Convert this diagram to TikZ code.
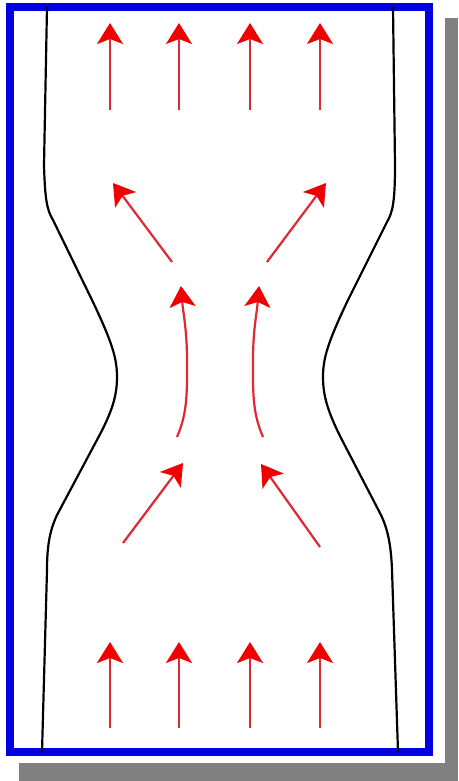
\documentclass[tikz,border=0pt]{standalone}
\usetikzlibrary{arrows.meta}
\definecolor{frameblue}{RGB}{0,0,225}
\definecolor{shadowgray}{RGB}{128,128,128}
\definecolor{shaftred}{RGB}{222,40,52}
\definecolor{headred}{RGB}{240,0,0}
\tikzset{
  flow/.style={draw=shaftred, line width=2.2pt,
    -{Stealth[length=21pt,width=26pt,inset=5pt,headred]}},
  wall/.style={draw=black, line width=2.2pt, line join=round},
}
\begin{document}
\begin{tikzpicture}[x=1pt,y=-1pt]
\useasboundingbox (0,0) rectangle (458,781);
\fill[white] (0,0) rectangle (458,781);
\fill[shadowgray] (19,18) rectangle (458,781);
\fill[white] (0,0) rectangle (445,763);
\draw[frameblue, line width=8pt] (9.5,7.5) rectangle (429,752);
% walls
\draw[wall] (47,7) -- (44,165) .. controls (45,200) and (47,210) .. (53,220)
  -- (92,300) .. controls (112,342) and (117,358) .. (117,377)
  .. controls (117,396) and (112,412) .. (98,438)
  -- (57,515) .. controls (50,530) and (47,545) .. (47,570) -- (42,752);
\draw[wall] (393,7) -- (395,165) .. controls (395,200) and (393,212) .. (387,222)
  -- (348,300) .. controls (328,342) and (323,358) .. (323,377)
  .. controls (323,396) and (328,412) .. (341,438)
  -- (381,515) .. controls (388,530) and (391,545) .. (392,570) -- (398,752);
% top and bottom rows
\foreach \i/\x in {1/110,2/179,3/250,4/320}{
  \coordinate (ts\i) at (\x,110);
  \coordinate (tt\i) at (\x,23);
  \draw[flow] (ts\i) -- (tt\i);
  \coordinate (bs\i) at (\x,728);
  \coordinate (bt\i) at (\x,642);
  \draw[flow] (bs\i) -- (bt\i);
}
% upper diagonal arrows
\coordinate (ul0) at (172,262); \coordinate (ul1) at (113,183);
\coordinate (ur0) at (267,262); \coordinate (ur1) at (326,183);
\draw[flow] (ul0) -- (ul1);
\draw[flow] (ur0) -- (ur1);
% curved central arrows
\coordinate (cl0) at (177,437); \coordinate (cl1) at (181,286);
\coordinate (cr0) at (263,437); \coordinate (cr1) at (259,286);
\draw[flow] (cl0) .. controls (188,412) and (187,390) .. (187,360)
  .. controls (187,330) and (183,312) .. (cl1);
\draw[flow] (cr0) .. controls (252,412) and (253,390) .. (253,360)
  .. controls (253,330) and (257,312) .. (cr1);
% lower diagonal arrows
\coordinate (ll0) at (123,543); \coordinate (ll1) at (183,463);
\coordinate (lr0) at (320,547); \coordinate (lr1) at (261,464);
\draw[flow] (ll0) -- (ll1);
\draw[flow] (lr0) -- (lr1);
\end{tikzpicture}
\end{document}
